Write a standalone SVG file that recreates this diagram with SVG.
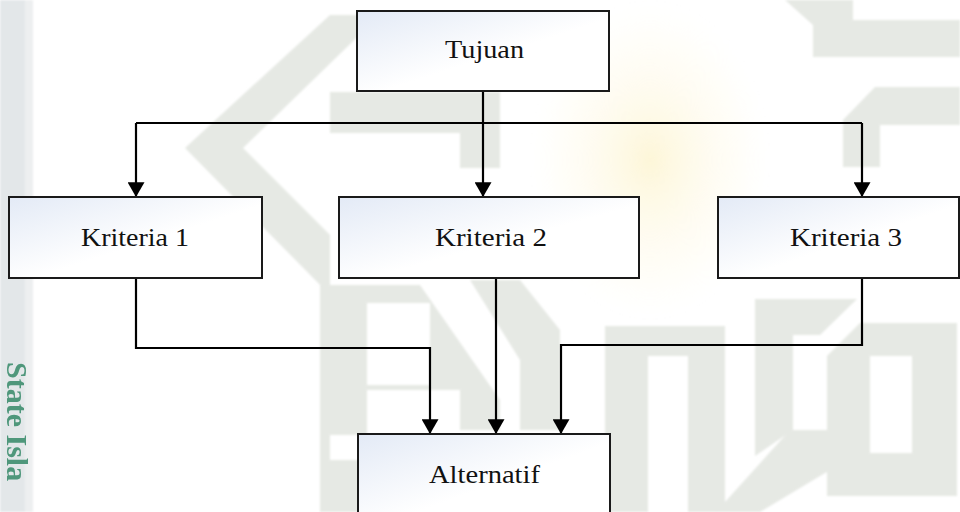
<svg xmlns="http://www.w3.org/2000/svg" width="960" height="512" viewBox="0 0 960 512">
  <defs>
    <linearGradient id="boxFill" x1="0" y1="0" x2="1" y2="1">
      <stop offset="0" stop-color="#e3eaf6"/>
      <stop offset="0.55" stop-color="#ffffff"/>
      <stop offset="1" stop-color="#ffffff"/>
    </linearGradient>
    <radialGradient id="sunGlow" cx="0.5" cy="0.5" r="0.5">
      <stop offset="0" stop-color="#fdf5d2" stop-opacity="0.85"/>
      <stop offset="1" stop-color="#fefaea" stop-opacity="0"/>
    </radialGradient>
    <!-- filled arrowhead, drawn pointing along the path direction -->
    <marker id="arrow" markerUnits="userSpaceOnUse" markerWidth="15" markerHeight="17" refX="14" refY="8" orient="auto" viewBox="0 0 14 16">
      <path d="M0,0 L14,8 L0,16 Z" fill="#000"/>
    </marker>
    <filter id="soft" x="-5%" y="-5%" width="110%" height="110%">
      <feGaussianBlur stdDeviation="0.8"/>
    </filter>
  </defs>
  <style>
    .box { fill: url(#boxFill); stroke: #1a1a1a; stroke-width: 2; }
    .label { font-family: "Liberation Serif", "Times New Roman", serif; font-size: 25px; fill: #111; text-anchor: middle; }
    .wire { fill: none; stroke: #000; stroke-width: 2.2; }
    .arrowed { marker-end: url(#arrow); }
    .mark { fill: #e6e9e4; }
  </style>

  <!-- page background with faint emblem -->
  <rect x="0" y="0" width="960" height="512" fill="#ffffff"/>
  <g id="backdrop" filter="url(#soft)">
    <rect x="0" y="0" width="25" height="512" fill="#e3e7e9"/>
    <rect x="25" y="0" width="8" height="512" fill="#edeff0"/>
    <ellipse cx="650" cy="160" rx="120" ry="160" fill="url(#sunGlow)"/>
    <!-- left chevron -->
    <polygon class="mark" points="330,15 380,15 243,148 330,235 330,295 185,148"/>
    <!-- band below the top box -->
    <polygon class="mark" points="330,92 500,92 500,168 460,168 460,133 330,133"/>
    <!-- centre-bottom block with opening -->
    <path class="mark" fill-rule="evenodd" d="M320,285 L420,285 L500,400 L500,430 L460,430 L460,390 L367,390 L367,435 L330,435 L330,460 L367,460 L367,512 L320,512 Z M367,303 L430,303 L430,385 L367,385 Z"/>
    <polygon class="mark" points="470,280 520,280 560,330 560,430 520,430 520,360"/>
    <!-- top-right strokes -->
    <polygon class="mark" points="785,0 853,0 853,20 960,20 960,57 813,57 813,25"/>
    <polygon class="mark" points="843,120 875,87 960,87 960,125 880,125 880,167 843,167"/>
    <!-- bottom-right letters -->
    <path class="mark" fill-rule="evenodd" d="M605,326 L725,326 L725,512 L688,512 L688,356 L648,356 L648,512 L605,512 Z"/>
    <polygon class="mark" points="755,299 857,299 820,335 793,335 793,430 755,456"/>
    <path class="mark" fill-rule="evenodd" d="M860,323 L957,323 L957,496 L827,496 L827,356 Z M870,356 L912,356 L912,453 L870,453 Z"/>
    <polygon class="mark" points="716,512 790,430 830,430 830,470 760,512"/>
  </g>
  <text x="0" y="0" transform="translate(7,362) rotate(90)" font-family="Liberation Serif, serif" font-weight="bold" font-size="30" fill="#3f8f70" opacity="0.9">State Isla</text>

  <g id="connectors">
    <path class="wire" d="M483,91 V123"/>
    <path class="wire" d="M136,123 H862"/>
    <path class="wire arrowed" d="M136,123 V197"/>
    <path class="wire arrowed" d="M483,123 V197"/>
    <path class="wire arrowed" d="M862,123 V197"/>
    <path class="wire arrowed" d="M136,278 V348 H430 V434"/>
    <path class="wire arrowed" d="M496,278 V434"/>
    <path class="wire arrowed" d="M862,278 V345 H561 V434"/>
  </g>

  <g id="tujuan">
    <rect class="box" x="357" y="11" width="252" height="80"/>
    <text class="label" x="484.5" y="58" textLength="79" lengthAdjust="spacingAndGlyphs">Tujuan</text>
  </g>
  <g id="kriteria1">
    <rect class="box" x="9" y="197" width="253" height="81"/>
    <text class="label" x="135" y="246" textLength="108" lengthAdjust="spacingAndGlyphs">Kriteria 1</text>
  </g>
  <g id="kriteria2">
    <rect class="box" x="339" y="197" width="300" height="81"/>
    <text class="label" x="491" y="246" textLength="112" lengthAdjust="spacingAndGlyphs">Kriteria 2</text>
  </g>
  <g id="kriteria3">
    <rect class="box" x="718" y="197" width="241" height="81"/>
    <text class="label" x="846" y="246" textLength="112" lengthAdjust="spacingAndGlyphs">Kriteria 3</text>
  </g>
  <g id="alternatif">
    <rect class="box" x="358" y="434" width="252" height="90"/>
    <text class="label" x="484.5" y="483" textLength="111" lengthAdjust="spacingAndGlyphs">Alternatif</text>
  </g>
</svg>
